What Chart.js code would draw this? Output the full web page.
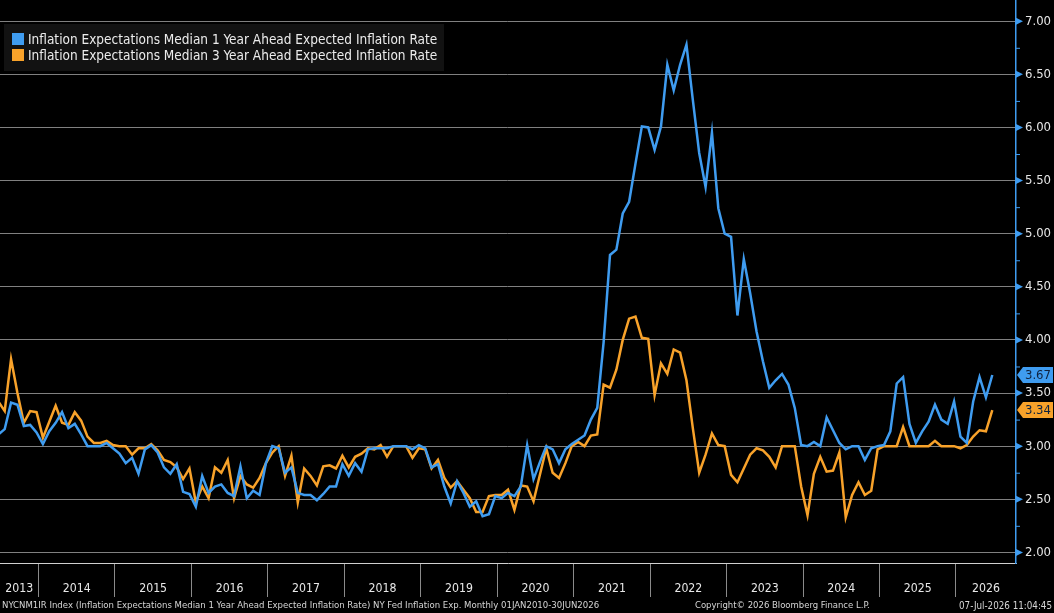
<!DOCTYPE html>
<html>
<head>
<meta charset="utf-8">
<script src="https://cdn.jsdelivr.net/npm/chart.js@4.4.1/dist/chart.umd.min.js"></script>
<style>
  html, body { margin: 0; padding: 0; background: #000; }
  #wrap { width: 1054px; height: 613px; }
</style>
</head>
<body>
<div id="wrap"><canvas id="myChart" width="1054" height="613"></canvas></div>
<script>
// monthly data, first point Jun 2013, last point Jun 2026
const startYear = 2013;
const startMonth = 6;

const oneYear = [
  3.11, 3.16, 3.41, 3.39, 3.19, 3.20, 3.13,                               // 2013 Jun-Dec
  3.02, 3.14, 3.22, 3.32, 3.17, 3.21, 3.11, 3.00, 3.00, 3.00, 3.03, 2.98, // 2014
  2.93, 2.84, 2.89, 2.74, 2.97, 3.01, 2.94, 2.80, 2.74, 2.83, 2.57, 2.55, // 2015
  2.43, 2.72, 2.56, 2.62, 2.64, 2.56, 2.53, 2.81, 2.51, 2.58, 2.54, 2.84, // 2016
  3.00, 2.98, 2.75, 2.80, 2.56, 2.54, 2.54, 2.49, 2.55, 2.62, 2.62, 2.83, // 2017
  2.72, 2.84, 2.76, 2.97, 2.98, 2.98, 2.98, 3.00, 3.00, 3.00, 2.97, 3.01, // 2018
  2.98, 2.80, 2.83, 2.62, 2.46, 2.67, 2.56, 2.43, 2.48, 2.34, 2.36, 2.53, // 2019
  2.51, 2.56, 2.53, 2.62, 3.01, 2.69, 2.85, 3.00, 2.97, 2.84, 2.97, 3.02, // 2020
  3.06, 3.10, 3.25, 3.36, 3.98, 4.80, 4.85, 5.19, 5.30, 5.66, 6.01, 6.00, // 2021
  5.79, 6.01, 6.59, 6.35, 6.59, 6.78, 6.26, 5.76, 5.44, 5.95, 5.24, 5.00, // 2022
  4.97, 4.23, 4.76, 4.44, 4.08, 3.80, 3.55, 3.62, 3.68, 3.58, 3.36, 3.01, // 2023
  3.00, 3.04, 3.00, 3.27, 3.15, 3.03, 2.97, 3.00, 3.00, 2.87, 2.98, 3.00, // 2024
  3.01, 3.14, 3.59, 3.65, 3.21, 3.03, 3.14, 3.23, 3.39, 3.25, 3.21, 3.42, // 2025
  3.09, 3.03, 3.42, 3.65, 3.46, 3.67                                      // 2026 Jan-Jun
];

const threeYear = [
  3.42, 3.33, 3.82, 3.50, 3.22, 3.33, 3.32,
  3.08, 3.23, 3.38, 3.22, 3.20, 3.32, 3.24, 3.09, 3.03, 3.03, 3.05, 3.01,
  3.00, 3.00, 2.92, 2.98, 2.98, 3.02, 2.96, 2.87, 2.85, 2.80, 2.69, 2.79,
  2.47, 2.62, 2.51, 2.80, 2.75, 2.87, 2.51, 2.72, 2.64, 2.61, 2.70, 2.84,
  2.94, 3.00, 2.72, 2.91, 2.47, 2.79, 2.72, 2.63, 2.81, 2.82, 2.79, 2.91,
  2.80, 2.90, 2.93, 2.98, 2.97, 3.01, 2.90, 3.00, 3.00, 3.00, 2.89, 2.98,
  2.97, 2.79, 2.87, 2.70, 2.61, 2.67, 2.59, 2.51, 2.38, 2.38, 2.53, 2.54,
  2.54, 2.59, 2.40, 2.63, 2.62, 2.48, 2.73, 2.98, 2.75, 2.70, 2.84, 3.00,
  3.04, 3.00, 3.10, 3.11, 3.58, 3.55, 3.72, 4.00, 4.20, 4.22, 4.02, 4.01,
  3.48, 3.78, 3.68, 3.91, 3.88, 3.62, 3.17, 2.75, 2.92, 3.12, 3.01, 3.00,
  2.73, 2.66, 2.79, 2.92, 2.98, 2.96, 2.90, 2.80, 3.00, 3.00, 3.00, 2.62,
  2.35, 2.74, 2.90, 2.76, 2.77, 2.94, 2.33, 2.54, 2.66, 2.54, 2.58, 2.97,
  3.00, 3.00, 3.00, 3.18, 3.00, 3.00, 3.00, 3.00, 3.05, 3.00, 3.00, 3.00,
  2.98, 3.01, 3.09, 3.15, 3.14, 3.34
];

const seriesNames = [
  "Inflation Expectations Median 1 Year Ahead Expected Inflation Rate",
  "Inflation Expectations Median 3 Year Ahead Expected Inflation Rate"
];
const yearLabels = ["2013","2014","2015","2016","2017","2018","2019","2020","2021","2022","2023","2024","2025","2026"];
const yTicks = [2.00,2.25,2.50,2.75,3.00,3.25,3.50,3.75,4.00,4.25,4.50,4.75,5.00,5.25,5.50,5.75,6.00,6.25,6.50,6.75,7.00];
const footerLeft = "NYCNM1IR Index (Inflation Expectations Median 1 Year Ahead Expected Inflation Rate) NY Fed Inflation Exp. Monthly 01JAN2010-30JUN2026";
const footerMid = "Copyright\u00a9 2026 Bloomberg Finance L.P.";
const footerRight = "07-Jul-2026 11:04:45";

const BLUE = "#3f9cf0";
const ORANGE = "#f8a22a";
const FONT = "'DejaVu Sans Condensed', 'DejaVu Sans', sans-serif";
Chart.defaults.font.family = FONT;

// month position on a decimal-year axis
const monthX = oneYear.map((v, i) => {
  const k = startMonth - 1 + i;
  const yr = startYear + Math.floor(k / 12);
  const m = (k % 12) + 1;
  return yr + (m - 0.3) / 12;
});

function fitSize(ctx, text, width) {
  ctx.font = "20px " + FONT;
  return 20 * width / ctx.measureText(text).width;
}

function isMajor(v) {
  return Math.abs(v * 2 - Math.round(v * 2)) < 1e-6;
}

const decor = {
  id: "decor",
  beforeDraw(chart) {
    const ctx = chart.ctx;
    ctx.save();
    ctx.fillStyle = "#000";
    ctx.fillRect(0, 0, chart.width, chart.height);
    ctx.restore();
  },
  afterDraw(chart) {
    const ctx = chart.ctx;
    const xs = chart.scales.x;
    const ys = chart.scales.y;
    const area = chart.chartArea;
    ctx.save();

    // markers on the right axis
    yTicks.forEach((v) => {
      const py = ys.getPixelForValue(v);
      ctx.fillStyle = BLUE;
      ctx.strokeStyle = BLUE;
      if (isMajor(v)) {
        ctx.beginPath();
        ctx.moveTo(area.right, py - 3.5);
        ctx.lineTo(area.right + 7, py);
        ctx.lineTo(area.right, py + 3.5);
        ctx.closePath();
        ctx.fill();
      } else {
        ctx.lineWidth = 1;
        ctx.beginPath();
        ctx.moveTo(area.right, py + 0.5);
        ctx.lineTo(area.right + 4, py + 0.5);
        ctx.stroke();
      }
    });

    // year labels centred in each visible year
    const ySize = fitSize(ctx, "2014", 28);
    ctx.font = ySize.toFixed(1) + "px " + FONT;
    ctx.fillStyle = "#e8e8e8";
    ctx.textAlign = "center";
    ctx.textBaseline = "middle";
    yearLabels.forEach((lab) => {
      const yr = parseInt(lab, 10);
      const a = Math.max(xs.min, yr);
      const b = Math.min(xs.max, yr + 1);
      const px = (xs.getPixelForValue(a) + xs.getPixelForValue(b)) / 2;
      ctx.fillText(lab, px, 589);
    });

    // legend box
    ctx.fillStyle = "#121212";
    ctx.fillRect(4, 24, 440, 47);
    const lSize = fitSize(ctx, seriesNames[0], 409);
    ctx.font = lSize.toFixed(1) + "px " + FONT;
    ctx.textAlign = "left";
    chart.data.datasets.forEach((ds, i) => {
      const cy = 39 + i * 16;
      ctx.fillStyle = ds.borderColor;
      ctx.fillRect(12, cy - 6, 12, 12);
      ctx.fillStyle = "#ececec";
      ctx.fillText(ds.label, 28, cy + 1);
    });

    // last value tags on the axis
    const tagFont = "13px " + FONT;
    chart.data.datasets.forEach((ds) => {
      const last = ds.data[ds.data.length - 1].y;
      const py = ys.getPixelForValue(last);
      const x0 = area.right + 1;
      ctx.fillStyle = ds.borderColor;
      ctx.beginPath();
      ctx.moveTo(x0, py);
      ctx.lineTo(x0 + 6, py - 8);
      ctx.lineTo(1053, py - 8);
      ctx.lineTo(1053, py + 8);
      ctx.lineTo(x0 + 6, py + 8);
      ctx.closePath();
      ctx.fill();
      ctx.font = tagFont;
      ctx.fillStyle = "#10233f";
      ctx.textAlign = "right";
      ctx.textBaseline = "middle";
      ctx.fillText(last.toFixed(2), 1051, py + 1);
    });

    // footer
    ctx.fillStyle = "#d6d6d6";
    ctx.textBaseline = "middle";
    ctx.textAlign = "left";
    ctx.font = fitSize(ctx, footerLeft, 598).toFixed(2) + "px " + FONT;
    ctx.fillText(footerLeft, 2, 606);
    ctx.font = fitSize(ctx, footerMid, 175).toFixed(2) + "px " + FONT;
    ctx.fillText(footerMid, 695, 606);
    ctx.textAlign = "right";
    ctx.font = fitSize(ctx, footerRight, 93).toFixed(2) + "px " + FONT;
    ctx.fillText(footerRight, 1052, 606);

    ctx.restore();
  }
};

const chart = new Chart("myChart", {
  type: "line",
  data: {
    datasets: [
      {
        label: seriesNames[0],
        data: oneYear.map((v, i) => ({ x: monthX[i], y: v })),
        borderColor: BLUE,
        borderWidth: 2.5,
        pointRadius: 0,
        tension: 0,
        fill: false
      },
      {
        label: seriesNames[1],
        data: threeYear.map((v, i) => ({ x: monthX[i], y: v })),
        borderColor: ORANGE,
        borderWidth: 2.5,
        pointRadius: 0,
        tension: 0,
        fill: false
      }
    ]
  },
  options: {
    responsive: false,
    animation: false,
    devicePixelRatio: 1,
    layout: { padding: 0 },
    plugins: { legend: { display: false }, tooltip: { enabled: false } },
    scales: {
      x: {
        type: "linear",
        position: "bottom",
        min: 2013.497,
        max: 2026.785,
        afterBuildTicks: (s) => {
          s.ticks = yearLabels.slice(1).map((l) => ({ value: parseInt(l, 10) }));
        },
        afterFit: (s) => {
          s.height = 50;
          s.paddingLeft = 0;
          s.paddingRight = 0;
        },
        grid: {
          drawOnChartArea: false,
          drawTicks: true,
          tickLength: 34,
          tickWidth: 1,
          color: "#8a8a8a"
        },
        border: { display: true, color: "#d0d0d0", width: 1 },
        ticks: { display: false }
      },
      y: {
        type: "linear",
        position: "right",
        min: 1.9,
        max: 7.2,
        afterBuildTicks: (s) => {
          s.ticks = yTicks.map((v) => ({ value: v }));
        },
        afterFit: (s) => {
          s.width = 38;
          s.paddingTop = 0;
          s.paddingBottom = 0;
        },
        grid: {
          drawTicks: false,
          color: (c) => (c.tick && isMajor(c.tick.value) ? "#808080" : "rgba(0,0,0,0)"),
          lineWidth: 1
        },
        border: { display: true, color: BLUE, width: 1.5 },
        ticks: {
          autoSkip: false,
          padding: 9,
          color: "#e6e6e6",
          font: { size: 13 },
          callback: (v) => (isMajor(v) ? Number(v).toFixed(2) : "")
        }
      }
    }
  },
  plugins: [decor]
});
</script>
</body>
</html>
